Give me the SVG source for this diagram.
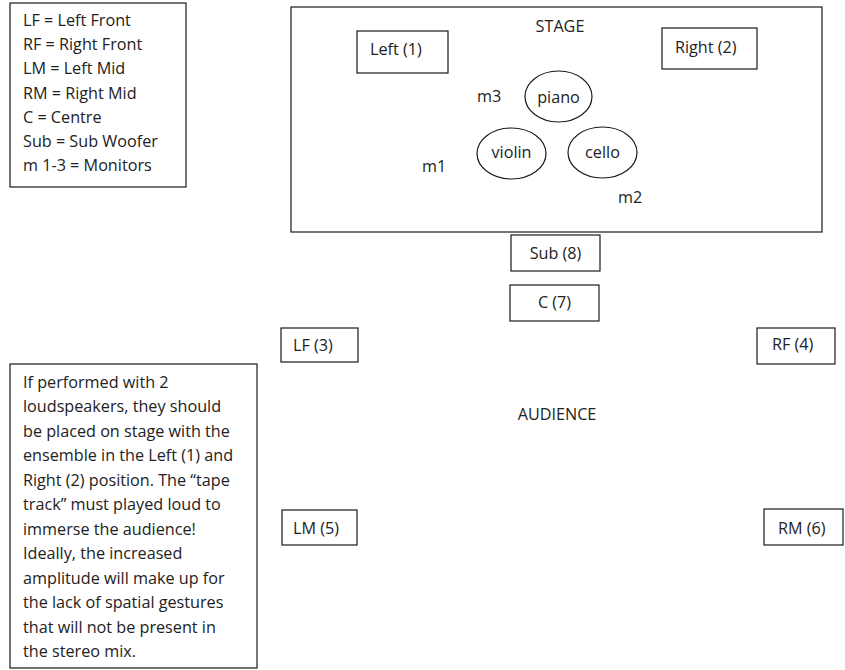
<svg xmlns="http://www.w3.org/2000/svg" width="845" height="670" viewBox="0 0 845 670">
<style>
rect, ellipse { fill: #ffffff; stroke: #1a1a1a; stroke-width: 1.2; }
text { font-family: "Open Sans", "Liberation Sans", Arial, sans-serif; font-size: 16.2px; fill: #222222; }
.c { text-anchor: middle; }
</style>
<rect x="0" y="0" width="845" height="670" style="stroke:none"/>
<g id="legend">
<rect x="10" y="3" width="176" height="184"/>
<text x="23" y="26">LF = Left Front</text>
<text x="23" y="50">RF = Right Front</text>
<text x="23" y="74">LM = Left Mid</text>
<text x="23" y="99">RM = Right Mid</text>
<text x="23" y="123">C = Centre</text>
<text x="23" y="147">Sub = Sub Woofer</text>
<text x="23" y="171">m 1-3 = Monitors</text>
</g>
<g id="stage">
<rect x="291" y="7" width="531" height="225"/>
<text class="c" x="560" y="32">STAGE</text>
</g>
<g id="left1"><rect x="357" y="31" width="91" height="42"/><text x="370" y="55">Left (1)</text></g>
<g id="right2"><rect x="662" y="28" width="95" height="41"/><text x="675" y="53">Right (2)</text></g>
<g id="piano"><ellipse cx="558.5" cy="96.5" rx="33.5" ry="25.5"/><text class="c" x="558.5" y="103">piano</text></g>
<g id="violin"><ellipse cx="511.5" cy="153.5" rx="34.5" ry="25.5"/><text class="c" x="511.5" y="158">violin</text></g>
<g id="cello"><ellipse cx="602.5" cy="152.5" rx="34.5" ry="25.5"/><text class="c" x="602.5" y="158">cello</text></g>
<g id="m3"><text x="477" y="102">m3</text></g>
<g id="m1"><text x="422" y="172">m1</text></g>
<g id="m2"><text x="618" y="203">m2</text></g>
<g id="sub8"><rect x="511" y="235" width="89" height="36"/><text class="c" x="555.5" y="259">Sub (8)</text></g>
<g id="c7"><rect x="510" y="285" width="89" height="36"/><text class="c" x="554.5" y="308">C (7)</text></g>
<g id="lf3"><rect x="281" y="328" width="77" height="34"/><text x="293" y="351">LF (3)</text></g>
<g id="rf4"><rect x="757" y="328" width="78" height="36"/><text x="772" y="350">RF (4)</text></g>
<g id="audience"><text class="c" x="557" y="420">AUDIENCE</text></g>
<g id="lm5"><rect x="282" y="510" width="75" height="35"/><text x="293" y="534">LM (5)</text></g>
<g id="rm6"><rect x="764" y="509" width="79" height="36"/><text x="778" y="534">RM (6)</text></g>
<g id="note">
<rect x="10" y="364" width="247" height="304"/>
<text x="23" y="388">If performed with 2</text>
<text x="23" y="412">loudspeakers, they should</text>
<text x="23" y="437">be placed on stage with the</text>
<text x="23" y="461">ensemble in the Left (1) and</text>
<text x="23" y="486">Right (2) position. The “tape</text>
<text x="23" y="510">track” must played loud to</text>
<text x="23" y="535">immerse the audience!</text>
<text x="23" y="559">Ideally, the increased</text>
<text x="23" y="584">amplitude will make up for</text>
<text x="23" y="608">the lack of spatial gestures</text>
<text x="23" y="633">that will not be present in</text>
<text x="23" y="657">the stereo mix.</text>
</g>
<g id="connectors"></g>
</svg>
